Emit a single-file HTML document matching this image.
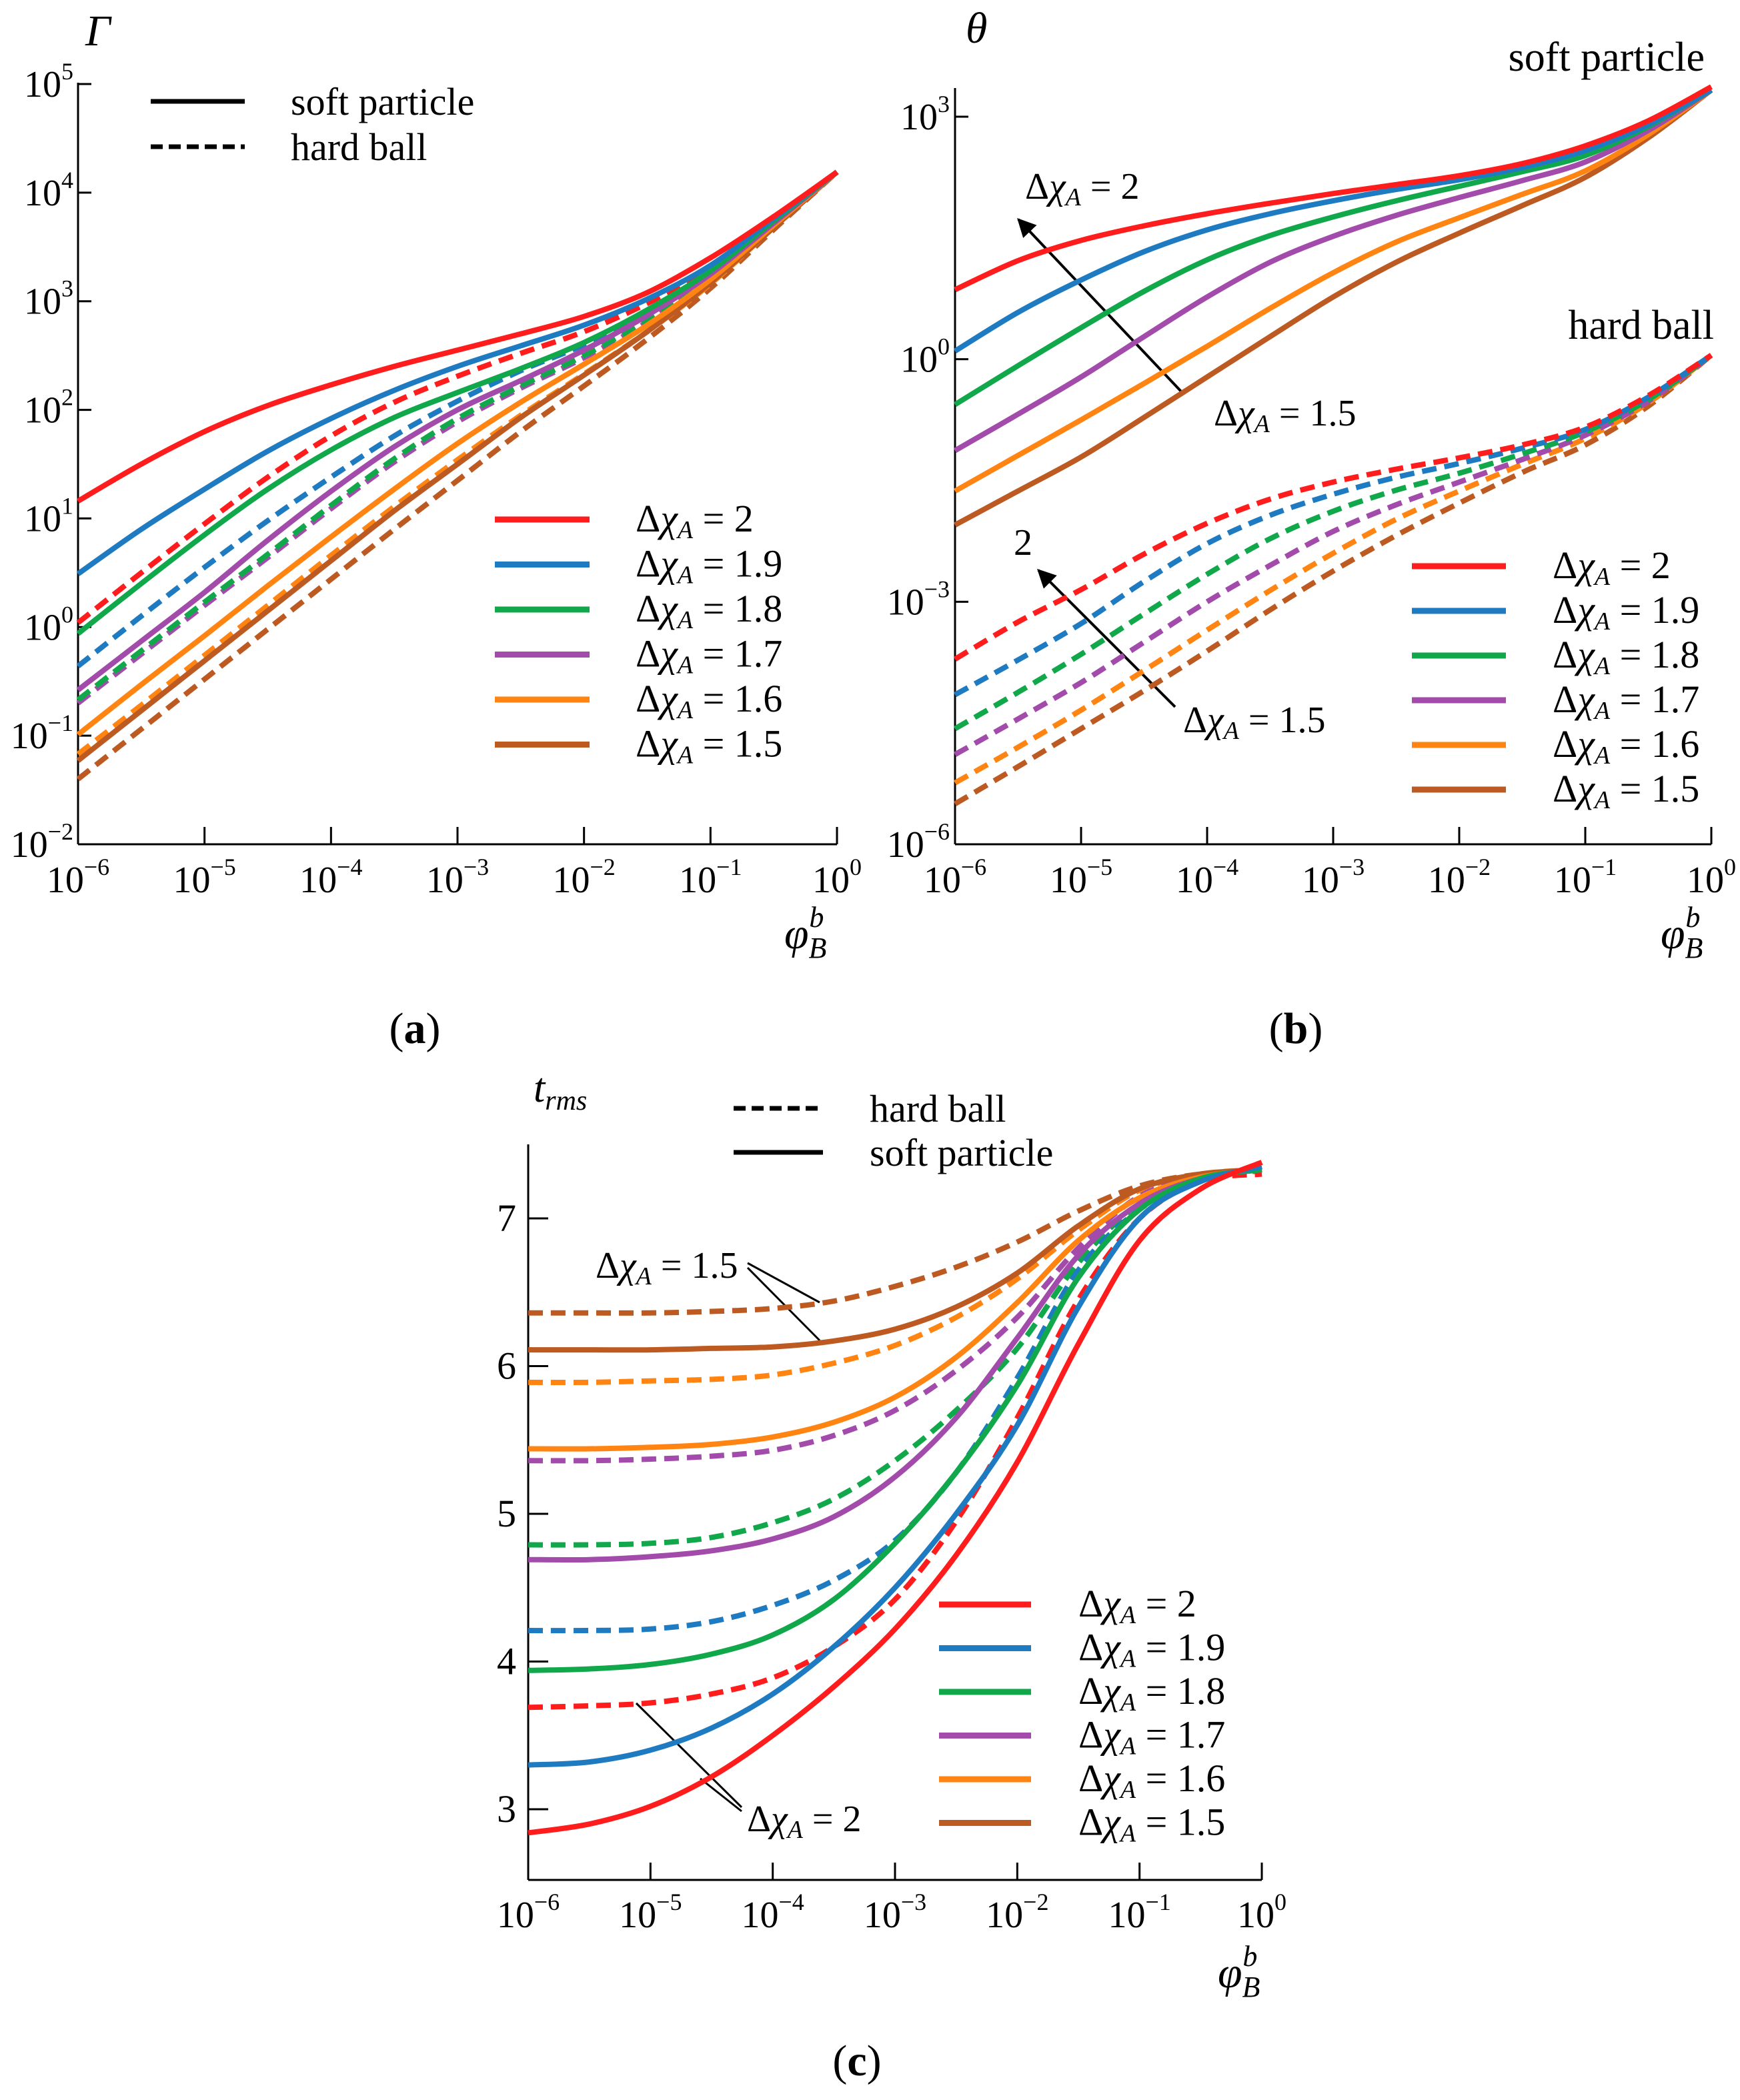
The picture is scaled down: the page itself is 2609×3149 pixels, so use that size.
<!DOCTYPE html>
<html><head><meta charset="utf-8">
<style>
html,body{margin:0;padding:0;background:#fff;}
svg{display:block;font-family:"Liberation Serif","DejaVu Serif",serif;}
</style></head>
<body>
<svg id="fig" xmlns="http://www.w3.org/2000/svg" width="2609" height="3149" viewBox="0 0 2609 3149">
<defs>
<marker id="arr" viewBox="0 0 10 10" refX="9" refY="5" markerWidth="7" markerHeight="7" orient="auto-start-reverse" markerUnits="strokeWidth">
<path d="M0,0 L10,5 L0,10 z" fill="#000"/></marker>
</defs>
<rect x="0" y="0" width="2609" height="3149" fill="#fff"/>

<g>
<text x="128" y="68" font-size="66" font-style="italic">Γ</text>
<line x1="226" y1="152" x2="367" y2="152" stroke="#000" stroke-width="7"/>
<line x1="226" y1="220" x2="367" y2="220" stroke="#000" stroke-width="7" stroke-dasharray="18,9"/>
<text x="436" y="172" font-size="58">soft particle</text>
<text x="436" y="240" font-size="58">hard ball</text>
<text x="1176" y="1422" font-size="66" font-style="italic">φ<tspan font-size="44" dy="14">B</tspan><tspan font-size="44" dx="-26" dy="-46">b</tspan></text>
<text x="622" y="1564" font-size="66" text-anchor="middle">(<tspan font-weight="bold">a</tspan>)</text>
</g>

<g>
<text x="1448" y="64" font-size="66" font-style="italic">θ</text>
<text x="2556" y="106" font-size="62" text-anchor="end">soft particle</text>
<text x="2570" y="508" font-size="62" text-anchor="end">hard ball</text>
<line x1="1772" y1="588" x2="1527" y2="329" stroke="#000" stroke-width="4" marker-end="url(#arr)"/>
<text x="1537" y="298" font-size="56">Δ<tspan font-style="italic">χ</tspan><tspan font-style="italic" font-size="38" dy="10">A</tspan><tspan dy="-10"> = 2</tspan></text>
<text x="1820" y="638" font-size="56">Δ<tspan font-style="italic">χ</tspan><tspan font-style="italic" font-size="38" dy="10">A</tspan><tspan dy="-10"> = 1.5</tspan></text>
<line x1="1762" y1="1060" x2="1557" y2="855" stroke="#000" stroke-width="4" marker-end="url(#arr)"/>
<text x="1520" y="832" font-size="56">2</text>
<text x="1774" y="1098" font-size="56">Δ<tspan font-style="italic">χ</tspan><tspan font-style="italic" font-size="38" dy="10">A</tspan><tspan dy="-10"> = 1.5</tspan></text>
<text x="2490" y="1422" font-size="66" font-style="italic">φ<tspan font-size="44" dy="14">B</tspan><tspan font-size="44" dx="-26" dy="-46">b</tspan></text>
<text x="1943" y="1564" font-size="66" text-anchor="middle">(<tspan font-weight="bold">b</tspan>)</text>
</g>

<g>
<text x="800" y="1652" font-size="62" font-style="italic">t<tspan font-size="42" dy="12">rms</tspan></text>
<line x1="1100" y1="1662" x2="1234" y2="1662" stroke="#000" stroke-width="7" stroke-dasharray="18,9"/>
<line x1="1100" y1="1728" x2="1234" y2="1728" stroke="#000" stroke-width="7"/>
<text x="1304" y="1682" font-size="58">hard ball</text>
<text x="1304" y="1748" font-size="58">soft particle</text>
<text x="893" y="1916" font-size="56">Δ<tspan font-style="italic">χ</tspan><tspan font-style="italic" font-size="38" dy="10">A</tspan><tspan dy="-10"> = 1.5</tspan></text>
<line x1="1121" y1="1894" x2="1229" y2="1953" stroke="#000" stroke-width="3"/>
<line x1="1121" y1="1901" x2="1229" y2="2010" stroke="#000" stroke-width="3"/>
<text x="1120" y="2746" font-size="56">Δ<tspan font-style="italic">χ</tspan><tspan font-style="italic" font-size="38" dy="10">A</tspan><tspan dy="-10"> = 2</tspan></text>
<line x1="1112" y1="2710" x2="954" y2="2554" stroke="#000" stroke-width="3"/>
<line x1="1112" y1="2716" x2="1050" y2="2667" stroke="#000" stroke-width="3"/>
<text x="1826" y="2980" font-size="66" font-style="italic">φ<tspan font-size="44" dy="14">B</tspan><tspan font-size="44" dx="-26" dy="-46">b</tspan></text>
<text x="1285" y="3112" font-size="66" text-anchor="middle">(<tspan font-weight="bold">c</tspan>)</text>
</g>
</svg>

<script>
// ---------------- DATA ----------------
const xLog = [-6,-5.5,-5,-4.5,-4,-3.5,-3,-2.5,-2,-1.5,-1,-0.5,0];
const seriesLabels = ['2','1.9','1.8','1.7','1.6','1.5'];
const seriesColors = ['#ff1c1c','#1f7bc1','#10a84a','#a24bab','#ff8411','#bd5a22'];
const xTickExp = [-6,-5,-4,-3,-2,-1,0];
const yTickExpA = [5,4,3,2,1,0,-1,-2];
const yTickExpB = [3,0,-3,-6];
const yTicksC = [3,4,5,6,7];

// Panel a: log10(Gamma)
const gammaSoft = [
 [1.16,1.50,1.80,2.04,2.23,2.40,2.55,2.70,2.86,3.08,3.40,3.78,4.19],
 [0.49,0.90,1.27,1.62,1.92,2.18,2.40,2.59,2.78,3.02,3.33,3.76,4.19],
 [-0.06,0.40,0.85,1.27,1.63,1.93,2.16,2.38,2.62,2.92,3.28,3.74,4.19],
 [-0.58,-0.13,0.32,0.80,1.25,1.66,2.00,2.27,2.55,2.87,3.25,3.72,4.19],
 [-0.99,-0.53,-0.08,0.38,0.83,1.27,1.69,2.07,2.42,2.78,3.20,3.70,4.19],
 [-1.23,-0.77,-0.31,0.15,0.61,1.07,1.50,1.93,2.32,2.72,3.17,3.68,4.19]
];
const gammaHard = [
 [0.04,0.50,0.95,1.38,1.76,2.07,2.31,2.52,2.72,2.98,3.30,3.75,4.19],
 [-0.36,0.10,0.55,0.98,1.38,1.76,2.08,2.36,2.60,2.90,3.27,3.73,4.19],
 [-0.67,-0.22,0.23,0.67,1.12,1.55,1.92,2.22,2.50,2.83,3.23,3.71,4.19],
 [-0.70,-0.25,0.20,0.64,1.09,1.52,1.89,2.20,2.48,2.81,3.22,3.70,4.19],
 [-1.17,-0.72,-0.26,0.20,0.66,1.11,1.54,1.95,2.33,2.72,3.16,3.68,4.19],
 [-1.40,-0.94,-0.48,-0.02,0.44,0.90,1.35,1.80,2.22,2.65,3.12,3.66,4.19]
];
// Panel b: log10(theta)
const thetaSoft = [
 [0.86,1.22,1.47,1.65,1.80,1.93,2.05,2.16,2.27,2.42,2.64,2.95,3.37],
 [0.10,0.58,0.98,1.33,1.60,1.80,1.96,2.10,2.22,2.37,2.58,2.90,3.33],
 [-0.56,-0.08,0.39,0.84,1.23,1.53,1.76,1.96,2.14,2.32,2.52,2.88,3.33],
 [-1.13,-0.68,-0.22,0.28,0.77,1.20,1.52,1.78,2.00,2.21,2.44,2.83,3.33],
 [-1.63,-1.19,-0.75,-0.30,0.16,0.63,1.07,1.45,1.75,2.04,2.33,2.78,3.33],
 [-2.05,-1.63,-1.21,-0.72,-0.22,0.28,0.77,1.20,1.56,1.90,2.25,2.74,3.33]
];
const thetaHard = [
 [-3.71,-3.25,-2.85,-2.41,-2.03,-1.73,-1.52,-1.36,-1.22,-1.06,-0.84,-0.45,0.05],
 [-4.15,-3.72,-3.27,-2.75,-2.28,-1.93,-1.67,-1.46,-1.29,-1.10,-0.87,-0.47,0.05],
 [-4.57,-4.12,-3.65,-3.15,-2.66,-2.22,-1.88,-1.62,-1.41,-1.17,-0.90,-0.50,0.05],
 [-4.89,-4.45,-4.00,-3.50,-3.00,-2.55,-2.13,-1.80,-1.52,-1.24,-0.94,-0.52,0.05],
 [-5.24,-4.80,-4.34,-3.85,-3.35,-2.86,-2.40,-1.98,-1.63,-1.30,-0.98,-0.54,0.05],
 [-5.50,-5.04,-4.57,-4.10,-3.61,-3.10,-2.62,-2.18,-1.78,-1.40,-1.06,-0.58,0.05]
];
// Panel c: t_rms
const trmsSoft = [
 [2.84,2.90,3.02,3.22,3.50,3.83,4.22,4.72,5.35,6.15,6.85,7.20,7.38],
 [3.30,3.32,3.40,3.55,3.78,4.10,4.50,5.00,5.60,6.40,7.00,7.25,7.35],
 [3.94,3.95,3.98,4.05,4.18,4.42,4.80,5.28,5.87,6.60,7.06,7.27,7.33],
 [4.69,4.69,4.71,4.75,4.83,4.98,5.25,5.65,6.19,6.75,7.10,7.27,7.33],
 [5.44,5.44,5.45,5.47,5.52,5.62,5.79,6.06,6.43,6.85,7.14,7.28,7.33],
 [6.11,6.11,6.11,6.12,6.13,6.17,6.25,6.40,6.63,6.95,7.20,7.30,7.33]
];
const trmsHard = [
 [3.69,3.70,3.72,3.78,3.89,4.10,4.42,4.95,5.65,6.45,7.00,7.25,7.30],
 [4.21,4.21,4.22,4.27,4.38,4.55,4.82,5.28,5.92,6.65,7.06,7.27,7.33],
 [4.79,4.79,4.80,4.84,4.94,5.10,5.36,5.70,6.12,6.70,7.10,7.27,7.33],
 [5.36,5.36,5.37,5.39,5.43,5.53,5.70,5.97,6.33,6.80,7.15,7.28,7.33],
 [5.89,5.89,5.90,5.91,5.94,6.02,6.14,6.33,6.59,6.92,7.19,7.30,7.33],
 [6.36,6.36,6.36,6.37,6.39,6.44,6.54,6.67,6.84,7.05,7.22,7.30,7.32]
];

// ---------------- DRAWING ----------------
const NS = 'http://www.w3.org/2000/svg';
const svg = document.getElementById('fig');
function mk(tag, attrs, parent){
  const e = document.createElementNS(NS, tag);
  for (const k in attrs) e.setAttribute(k, attrs[k]);
  parent.appendChild(e);
  return e;
}
function pathFrom(xs, ys, sx, sy){
  const p = xs.map((x,i)=>[sx(x), sy(ys[i])]);
  let d = 'M' + p[0][0].toFixed(1) + ',' + p[0][1].toFixed(1);
  for (let i=0;i<p.length-1;i++){
    const p0 = p[Math.max(0,i-1)], p1 = p[i], p2 = p[i+1], p3 = p[Math.min(p.length-1,i+2)];
    const c1x = p1[0] + (p2[0]-p0[0])/6, c1y = p1[1] + (p2[1]-p0[1])/6;
    const c2x = p2[0] - (p3[0]-p1[0])/6, c2y = p2[1] - (p3[1]-p1[1])/6;
    d += ' C' + c1x.toFixed(1)+','+c1y.toFixed(1)+' '+c2x.toFixed(1)+','+c2y.toFixed(1)+' '+p2[0].toFixed(1)+','+p2[1].toFixed(1);
  }
  return d;
}
function powLabel(parent, x, y, exp, anchor){
  const t = mk('text', {x:x, y:y, 'font-size':56, 'text-anchor':anchor}, parent);
  
  
  t.appendChild(document.createTextNode('10'));
  const s = mk('tspan', {'font-size':36, dy:-26}, t);
  s.textContent = (exp < 0 ? '\u2212' + (-exp) : String(exp));
  return t;
}
function legendText(parent, x, y, lbl){
  const t = mk('text', {x:x, y:y, 'font-size':58}, parent);
  
  
  t.appendChild(document.createTextNode('\u0394'));
  const a = mk('tspan', {'font-style':'italic'}, t); a.textContent = '\u03c7';
  const b = mk('tspan', {'font-style':'italic','font-size':38, dy:10}, t); b.textContent = 'A';
  const c = mk('tspan', {dy:-10}, t); c.textContent = ' = ' + lbl;
}

function drawPanel(cfg){
  const g = mk('g', {}, svg);
  
  
  const sx = l => cfg.x0 + (l - xTickExp[0]) * (cfg.x1 - cfg.x0) / (xTickExp[xTickExp.length-1] - xTickExp[0]);
  const sy = cfg.sy;
  const ya = mk('line', {x1:cfg.x0, y1:cfg.axTop, x2:cfg.x0, y2:cfg.axBottom, stroke:'#000','stroke-width':3}, g);
  
  
  const xa = mk('line', {x1:cfg.x0, y1:cfg.axBottom, x2:cfg.x1, y2:cfg.axBottom, stroke:'#000','stroke-width':3}, g);
  
  
  xTickExp.forEach(e => {
    const tk = mk('line', {x1:sx(e), y1:cfg.axBottom, x2:sx(e), y2:cfg.axBottom-26, stroke:'#000','stroke-width':3}, g);
    
    
    powLabel(g, sx(e), cfg.xLabY, e, 'middle');
  });
  cfg.yTicks.forEach(v => {
    const tk = mk('line', {x1:cfg.x0, y1:sy(v), x2:cfg.x0+cfg.yTickLen, y2:sy(v), stroke:'#000','stroke-width':3}, g);
    
    
    if (cfg.linearY){
      const t = mk('text', {x:cfg.yLabX, y:sy(v)+19, 'font-size':58, 'text-anchor':'end'}, g);
      
      
      t.textContent = String(v);
    } else {
      powLabel(g, cfg.yLabX, sy(v)+19, v, 'end');
    }
  });
  for (let i = cfg.hard.length-1; i >= 0; i--){
    const p = mk('path', {d:pathFrom(xLog, cfg.hard[i], sx, sy), fill:'none', stroke:seriesColors[i], 'stroke-width':8, 'stroke-dasharray':'22,12'}, g);
    
    
  }
  for (let i = cfg.soft.length-1; i >= 0; i--){
    const p = mk('path', {d:pathFrom(xLog, cfg.soft[i], sx, sy), fill:'none', stroke:seriesColors[i], 'stroke-width':8}, g);
    
    
  }
  seriesLabels.forEach((lbl, i) => {
    const y = cfg.legY0 + i * cfg.legDy;
    const ln = mk('line', {x1:cfg.legX0, y1:y, x2:cfg.legX1, y2:y, stroke:seriesColors[i], 'stroke-width':9}, g);
    
    
    legendText(g, cfg.legTX, y + 18, lbl);
  });
}

drawPanel({name:'chart-a', x0:117, x1:1255, axTop:124, axBottom:1266,
  sy: v => 126 + (5 - v) * (1266 - 126) / 7,
  yTicks: yTickExpA, yTickLen:20, yLabX:110, xLabY:1338,
  soft: gammaSoft, hard: gammaHard,
  legX0:742, legX1:884, legY0:779, legDy:67.5, legTX:953});

drawPanel({name:'chart-b', x0:1432, x1:2566, axTop:132, axBottom:1266,
  sy: v => 175 + (3 - v) * (1266 - 175) / 9,
  yTicks: yTickExpB, yTickLen:20, yLabX:1424, xLabY:1338,
  soft: thetaSoft, hard: thetaHard,
  legX0:2117, legX1:2258, legY0:849, legDy:67, legTX:2328});

drawPanel({name:'chart-c', x0:792, x1:1892, axTop:1716, axBottom:2819,
  sy: v => 1827 + (7 - v) * (2713 - 1827) / 4,
  yTicks: yTicksC, linearY:true, yTickLen:30, yLabX:774, xLabY:2890,
  soft: trmsSoft, hard: trmsHard,
  legX0:1408, legX1:1546, legY0:2406, legDy:65.5, legTX:1617});
</script>
</body></html>
